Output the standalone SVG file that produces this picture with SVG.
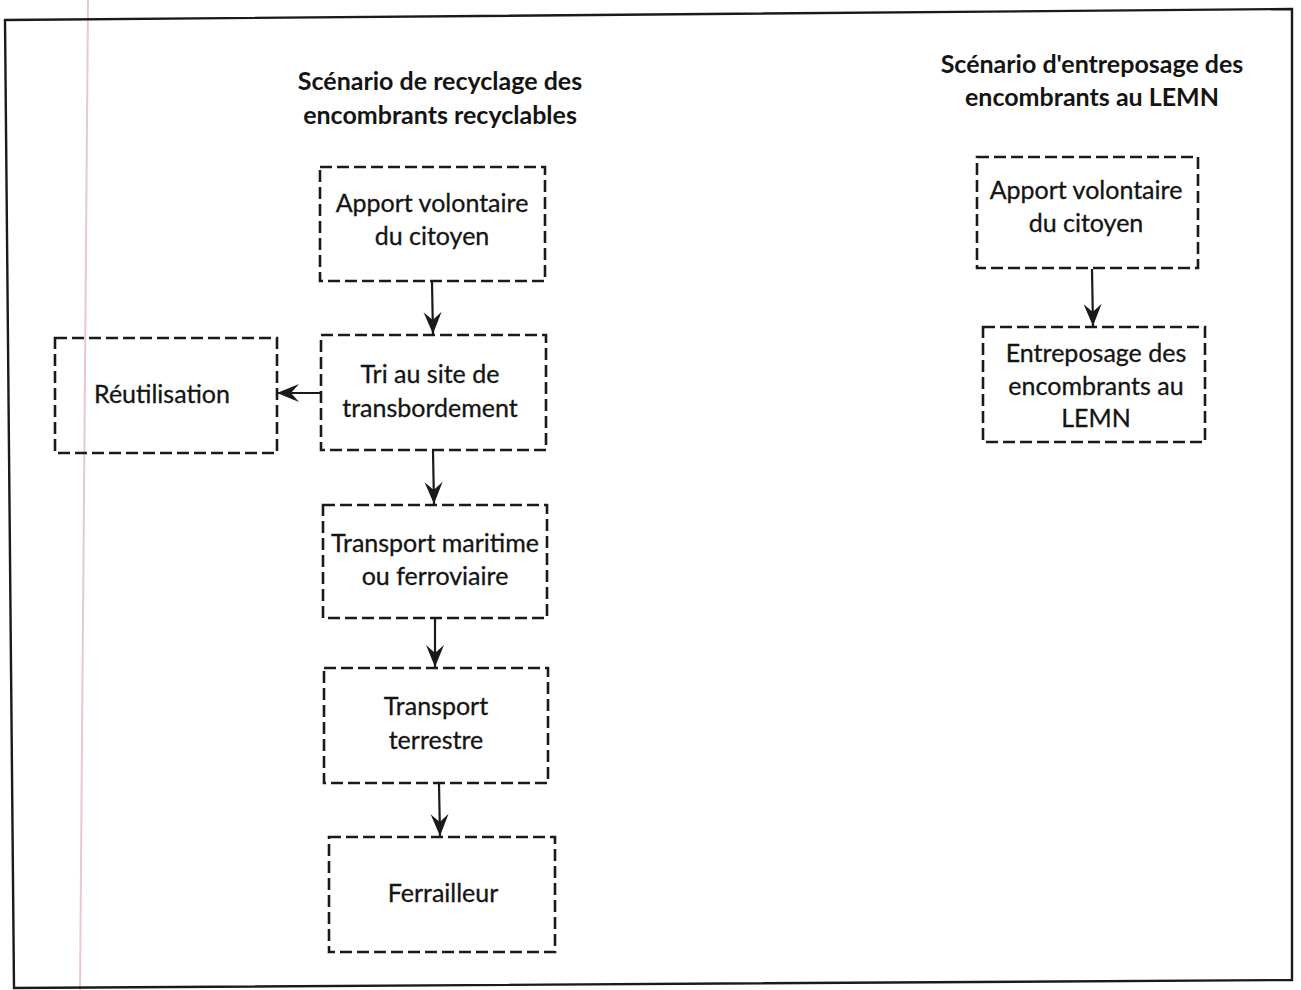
<svg xmlns="http://www.w3.org/2000/svg" width="1301" height="990" viewBox="0 0 1301 990">
  <style>
    .frame { fill: none; stroke: #1a1a1a; stroke-width: 2.4; }
    .margin { stroke: #e9c7d8; stroke-width: 2; }
    .box { fill: none; stroke: #1a1a1a; stroke-width: 2.6; stroke-dasharray: 12 5; }
    .label { font-family: Lato, "Liberation Sans", sans-serif; font-size: 25px; fill: #141414; text-anchor: middle; stroke: #141414; stroke-width: 0.3; }
    .title { font-family: Lato, "Liberation Sans", sans-serif; font-size: 25px; font-weight: bold; fill: #141414; text-anchor: middle; }
    .edge { fill: none; stroke: #1a1a1a; stroke-width: 2.2; }
  </style>
  <defs>
    <marker id="arrow" markerUnits="userSpaceOnUse" markerWidth="26" markerHeight="24" viewBox="-24 -12 26 24" refX="0" refY="0" orient="auto">
      <path d="M0,0 L-22,-9 L-14,0 L-22,9 Z" fill="#1a1a1a"/>
    </marker>
  </defs>

  <rect x="0" y="0" width="1301" height="990" fill="#ffffff"/>

  <!-- page margin rule and outer frame -->
  <line class="margin" x1="88" y1="0" x2="80" y2="990"/>
  <polygon class="frame" points="5,20 1292,9 1292,980 14,988"/>

  <!-- column titles -->
  <g id="title-recyclage">
    <text class="title" x="440" y="90">Scénario de recyclage des</text>
    <text class="title" x="440" y="124">encombrants recyclables</text>
  </g>
  <g id="title-entreposage">
    <text class="title" x="1092" y="73">Scénario d'entreposage des</text>
    <text class="title" x="1092" y="106">encombrants au LEMN</text>
  </g>

  <!-- recycling chain -->
  <g id="apport-recyclage">
    <rect class="box" x="320" y="167" width="225" height="114"/>
    <text class="label" x="432" y="212">Apport volontaire</text>
    <text class="label" x="432" y="245">du citoyen</text>
  </g>
  <g id="tri">
    <rect class="box" x="321" y="335" width="225" height="115"/>
    <text class="label" x="430" y="383">Tri au site de</text>
    <text class="label" x="430" y="417">transbordement</text>
  </g>
  <g id="reutilisation">
    <rect class="box" x="55" y="338" width="222" height="115"/>
    <text class="label" x="162" y="403">Réutilisation</text>
  </g>
  <g id="transport-maritime">
    <rect class="box" x="323" y="505" width="224" height="113"/>
    <text class="label" x="435" y="552">Transport maritime</text>
    <text class="label" x="435" y="585">ou ferroviaire</text>
  </g>
  <g id="transport-terrestre">
    <rect class="box" x="324" y="668" width="224" height="115"/>
    <text class="label" x="436" y="715">Transport</text>
    <text class="label" x="436" y="749">terrestre</text>
  </g>
  <g id="ferrailleur">
    <rect class="box" x="329" y="837" width="226" height="115"/>
    <text class="label" x="443" y="902">Ferrailleur</text>
  </g>

  <!-- storage chain -->
  <g id="apport-entreposage">
    <rect class="box" x="977" y="157" width="221" height="111"/>
    <text class="label" x="1086" y="199">Apport volontaire</text>
    <text class="label" x="1086" y="232">du citoyen</text>
  </g>
  <g id="entreposage">
    <rect class="box" x="983" y="327" width="222" height="115"/>
    <text class="label" x="1096" y="362">Entreposage des</text>
    <text class="label" x="1096" y="395">encombrants au</text>
    <text class="label" x="1096" y="427">LEMN</text>
  </g>

  <!-- connectors -->
  <g id="connectors">
    <line class="edge" x1="432" y1="282" x2="433" y2="334" marker-end="url(#arrow)"/>
    <line class="edge" x1="321" y1="393" x2="277" y2="393" marker-end="url(#arrow)"/>
    <line class="edge" x1="433" y1="451" x2="434" y2="504" marker-end="url(#arrow)"/>
    <line class="edge" x1="435" y1="619" x2="435" y2="667" marker-end="url(#arrow)"/>
    <line class="edge" x1="439" y1="784" x2="440" y2="836" marker-end="url(#arrow)"/>
    <line class="edge" x1="1092" y1="269" x2="1093" y2="326" marker-end="url(#arrow)"/>
  </g>
</svg>
